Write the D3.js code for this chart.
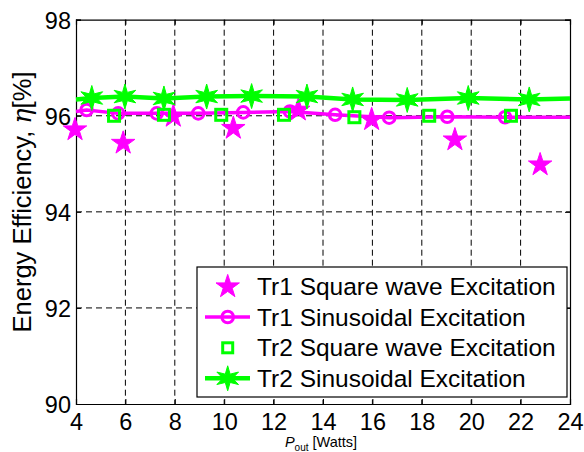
<!DOCTYPE html>
<html><head><meta charset="utf-8">
<script src="https://cdn.jsdelivr.net/npm/d3@7"></script>
<style>
html,body{margin:0;padding:0;background:#fff;}
svg{display:block;font-family:"Liberation Sans",Arial,Helvetica,sans-serif;}
</style></head>
<body>
<svg id="chart" width="584" height="452"></svg>
<script>
// ---- data ----
const xTicks = [4, 6, 8, 10, 12, 14, 16, 18, 20, 22, 24];
const yTicks = [90, 92, 94, 96, 98];

const tr1SquareX = [3.96, 5.91, 7.94, 10.37, 13.0, 15.97, 19.34, 22.79];
const tr1SquareY = [95.71, 95.43, 95.99, 95.74, 96.12, 95.92, 95.50, 94.98];

// sinusoidal curves: first/last points are line ends (no markers)
const tr1SinX = [4, 4.43, 5.71, 7.27, 8.95, 10.77, 12.66, 14.49, 16.68, 19.03, 21.37, 24];
const tr1SinY = [96.09, 96.12, 96.05, 96.05, 96.05, 96.07, 96.09, 96.02, 95.96, 95.98, 95.97, 95.97];

const tr2SquareX = [5.54, 7.56, 9.88, 12.42, 15.27, 18.30, 21.61];
const tr2SquareY = [96.00, 96.02, 96.02, 96.02, 95.97, 96.00, 96.00];

const tr2SinX = [4, 4.64, 5.98, 7.56, 9.29, 11.11, 13.35, 15.20, 17.41, 19.88, 22.35, 24];
const tr2SinY = [96.34, 96.37, 96.40, 96.36, 96.40, 96.41, 96.40, 96.34, 96.33, 96.37, 96.34, 96.36];

const legendLabels = ["Tr1 Square wave Excitation", "Tr1 Sinusoidal Excitation",
                      "Tr2 Square wave Excitation", "Tr2 Sinusoidal Excitation"];

const MAGENTA = "#ff00ff", GREEN = "#00ff00";

// ---- layout ----
const svg = d3.select("#chart");
const L = 76, R = 570, T = 19.7, B = 404;
const x = d3.scaleLinear().domain([4, 24]).range([L, R]);
const y = d3.scaleLinear().domain([90, 98]).range([B, T]);

function starPath(n, ro, ri) {
  const pts = [];
  for (let i = 0; i < 2 * n; i++) {
    const a = -Math.PI / 2 + i * Math.PI / n;
    const r = i % 2 === 0 ? ro : ri;
    pts.push([r * Math.cos(a), r * Math.sin(a)]);
  }
  return "M" + pts.map(p => p[0].toFixed(2) + "," + p[1].toFixed(2)).join("L") + "Z";
}
const pentagram = starPath(5, 12.3, 12.3 * 0.382);
const hexagram = starPath(6, 12.5, 4.8);

// grid
const grid = svg.append("g");
grid.selectAll("line.gx").data(xTicks.slice(1, -1)).enter().append("line")
  .attr("x1", d => x(d)).attr("x2", d => x(d)).attr("y1", T).attr("y2", B)
  .attr("stroke", "#000").attr("stroke-width", 1).attr("stroke-dasharray", "6,4");
grid.selectAll("line.gy").data(yTicks.slice(1, -1)).enter().append("line")
  .attr("x1", L).attr("x2", R).attr("y1", d => y(d)).attr("y2", d => y(d))
  .attr("stroke", "#000").attr("stroke-width", 1).attr("stroke-dasharray", "6,4");

// axes (ticks inward)
const tl = 5;
const axB = svg.append("g").attr("transform", `translate(0,${B})`)
  .call(d3.axisBottom(x).tickValues(xTicks).tickSize(-tl).tickPadding(10).tickFormat(d3.format("d")));
const axT = svg.append("g").attr("transform", `translate(0,${T})`)
  .call(d3.axisTop(x).tickValues(xTicks).tickSize(-tl).tickFormat(""));
const axL = svg.append("g").attr("transform", `translate(${L},0)`)
  .call(d3.axisLeft(y).tickValues(yTicks).tickSize(-tl).tickPadding(10).tickFormat(d3.format("d")));
const axR = svg.append("g").attr("transform", `translate(${R},0)`)
  .call(d3.axisRight(y).tickValues(yTicks).tickSize(-tl).tickFormat(""));
[axB, axT, axL, axR].forEach(a => {
  a.select(".domain").attr("stroke", "#000").attr("stroke-width", 1.2);
  a.selectAll(".tick line").attr("stroke", "#000");
});
axB.selectAll(".tick text").attr("font-size", 23.5).attr("fill", "#000")
  .attr("font-family", "Liberation Sans, Arial, sans-serif").attr("dy", null).attr("y", 26);
axL.selectAll(".tick text").attr("font-size", 23.5).attr("fill", "#000")
  .attr("font-family", "Liberation Sans, Arial, sans-serif").attr("dy", "0.36em").attr("x", -5);

// data
const plot = svg.append("g");
// Tr1 square wave: magenta pentagrams
plot.selectAll("path.t1s").data(tr1SquareX.map((v, i) => [v, tr1SquareY[i]])).enter().append("path")
  .attr("d", pentagram).attr("transform", d => `translate(${x(d[0])},${y(d[1])})`)
  .attr("fill", MAGENTA).attr("stroke", MAGENTA).attr("stroke-width", 1);

// Tr1 sinusoidal: magenta line with circles
const tr1Sin = tr1SinX.map((v, i) => [v, tr1SinY[i]]);
const line = d3.line().x(d => x(d[0])).y(d => y(d[1]));
plot.append("path").datum(tr1Sin).attr("d", line)
  .attr("fill", "none").attr("stroke", MAGENTA).attr("stroke-width", 3.5);
plot.selectAll("circle.t1c").data(tr1Sin.slice(1, -1)).enter().append("circle")
  .attr("cx", d => x(d[0])).attr("cy", d => y(d[1])).attr("r", 5.8)
  .attr("fill", "none").attr("stroke", MAGENTA).attr("stroke-width", 3);

// Tr2 square wave: green squares
plot.selectAll("rect.t2s").data(tr2SquareX.map((v, i) => [v, tr2SquareY[i]])).enter().append("rect")
  .attr("x", d => x(d[0]) - 5.5).attr("y", d => y(d[1]) - 5.5).attr("width", 11).attr("height", 11)
  .attr("fill", "none").attr("stroke", GREEN).attr("stroke-width", 3);

// Tr2 sinusoidal: green line with hexagrams
const tr2Sin = tr2SinX.map((v, i) => [v, tr2SinY[i]]);
plot.append("path").datum(tr2Sin).attr("d", line)
  .attr("fill", "none").attr("stroke", GREEN).attr("stroke-width", 4.5);
plot.selectAll("path.t2h").data(tr2Sin.slice(1, -1)).enter().append("path")
  .attr("d", hexagram).attr("transform", d => `translate(${x(d[0])},${y(d[1])})`)
  .attr("fill", GREEN).attr("stroke", GREEN).attr("stroke-width", 1);

// legend
const lg = svg.append("g");
lg.append("rect").attr("x", 197).attr("y", 267).attr("width", 370).attr("height", 130)
  .attr("fill", "#fff").attr("stroke", "#000").attr("stroke-width", 1.2);
const rowY = [286.7, 317, 347.8, 378.3];
const sx0 = 205, sx1 = 250, sxc = 227.7;
legendLabels.forEach((lab, i) => {
  const cy = rowY[i];
  const g = lg.append("g");
  if (i === 0) {
    g.append("path").attr("d", pentagram).attr("transform", `translate(${sxc},${cy})`)
      .attr("fill", MAGENTA).attr("stroke", MAGENTA);
  } else if (i === 1) {
    g.append("line").attr("x1", sx0).attr("x2", sx1).attr("y1", cy).attr("y2", cy)
      .attr("stroke", MAGENTA).attr("stroke-width", 3.5);
    g.append("circle").attr("cx", sxc).attr("cy", cy).attr("r", 5.8)
      .attr("fill", "none").attr("stroke", MAGENTA).attr("stroke-width", 3);
  } else if (i === 2) {
    g.append("rect").attr("x", sxc - 5).attr("y", cy - 5).attr("width", 10).attr("height", 10)
      .attr("fill", "none").attr("stroke", GREEN).attr("stroke-width", 3);
  } else {
    g.append("line").attr("x1", sx0).attr("x2", sx1).attr("y1", cy).attr("y2", cy)
      .attr("stroke", GREEN).attr("stroke-width", 4.5);
    g.append("path").attr("d", hexagram).attr("transform", `translate(${sxc},${cy})`)
      .attr("fill", GREEN).attr("stroke", GREEN);
  }
  g.append("text").attr("x", 257).attr("y", cy + 8.5).attr("font-size", 24.5).attr("fill", "#000").text(lab);
});

// axis labels
const yl = svg.append("text").attr("transform", `translate(31,202) rotate(-90)`)
  .attr("text-anchor", "middle").attr("font-size", 25.5).attr("fill", "#000");
yl.append("tspan").text("Energy Efficiency, ");
yl.append("tspan").attr("font-style", "italic").attr("font-family", "DejaVu Serif, serif").text("η");
yl.append("tspan").text("[%]");

const xl = svg.append("text").attr("x", 321).attr("y", 447).attr("text-anchor", "middle")
  .attr("font-size", 14.5).attr("fill", "#000");
xl.append("tspan").attr("font-style", "italic").text("P");
xl.append("tspan").attr("font-size", 10).attr("dy", 4).text("out");
xl.append("tspan").attr("dy", -4).text(" [Watts]");
</script>
</body></html>
